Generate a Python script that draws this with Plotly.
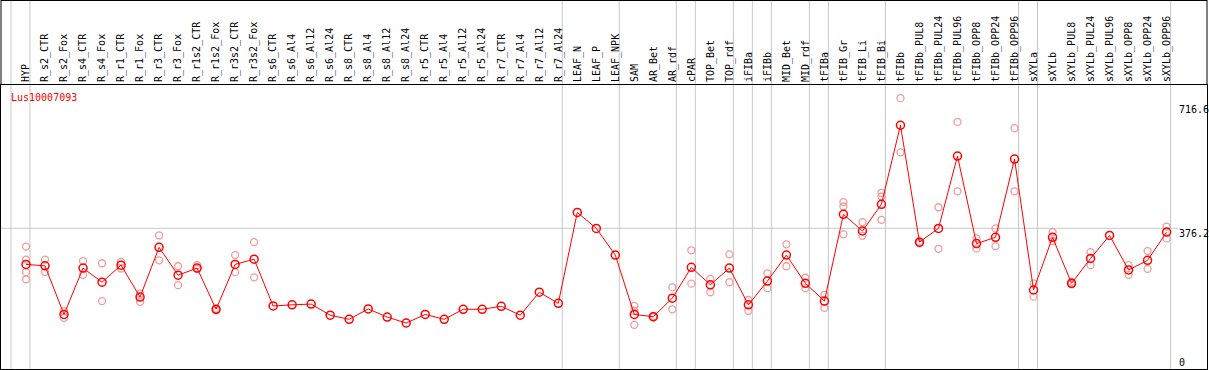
import plotly.graph_objects as go

# ---------------- data ----------------
categories = [
    "HYP", "R_s2_CTR", "R_s2_Fox", "R_s4_CTR", "R_s4_Fox", "R_r1_CTR", "R_r1_Fox",
    "R_r3_CTR", "R_r3_Fox", "R_r1s2_CTR", "R_r1s2_Fox", "R_r3s2_CTR", "R_r3s2_Fox",
    "R_s6_CTR", "R_s6_Al4", "R_s6_Al12", "R_s6_Al24", "R_s8_CTR", "R_s8_Al4",
    "R_s8_Al12", "R_s8_Al24", "R_r5_CTR", "R_r5_Al4", "R_r5_Al12", "R_r5_Al24",
    "R_r7_CTR", "R_r7_Al4", "R_r7_Al12", "R_r7_Al24", "LEAF_N", "LEAF_P", "LEAF_NPK",
    "SAM", "AR_Bet", "AR_rdf", "cPAR", "TOP_Bet", "TOP_rdf", "iFIBa", "iFIBb",
    "MID_Bet", "MID_rdf", "tFIBa", "tFIB_Gr", "tFIB_Li", "tFIB_Bi", "tFIBb",
    "tFIBb_PUL8", "tFIBb_PUL24", "tFIBb_PUL96", "tFIBb_OPP8", "tFIBb_OPP24", "tFIBb_OPP96",
    "sXYLa", "sXYLb", "sXYLb_PUL8", "sXYLb_PUL24", "sXYLb_PUL96", "sXYLb_OPP8",
    "sXYLb_OPP24", "sXYLb_OPP96",
]

mean_values = [
    279, 275, 144, 269, 231, 277, 191, 325, 250, 269, 158, 279, 293,
    167, 170, 172, 142, 131, 159, 137, 121, 144, 131, 158, 158,
    166, 142, 204, 174, 419, 376, 304,
    144, 138, 188, 271, 224, 269, 170, 234, 304, 228, 180,
    414, 369, 441, 654, 339, 376, 571, 335, 352, 563,
    210, 352, 228, 295, 357, 264, 290, 366,
]

rep_a = [
    327, 292, 153, 288, 282, 286, 200, 357, 274, 277, 160, 304, 339,
    None, None, None, None, None, None, None, None, None, None, None, None,
    None, None, None, None, None, None, None,
    167, 140, 217, 317, 240, 306, 183, 255, 333, 243, 197,
    447, 393, 472, 727, 341, 433, 663, 349, 376, 646,
    228, 366, 232, 312, None, 277, 315, 381,
]
rep_b = [
    292, 259, 135, 251, 180, 268, 178, 290, 223, 267, 155, 258, 244,
    None, None, None, None, None, None, None, None, None, None, None, None,
    None, None, None, None, None, None, None,
    154, 136, 158, 227, 204, 231, 154, 215, 274, 215, 162,
    435, 356, 462, 581, 336, 321, 476, 322, 328, 476,
    192, 342, 225, 277, None, 251, 267, 349,
]
rep_c = [
    258, None, None, None, None, None, None, None, None, None, None, None, None,
    None, None, None, None, None, None, None, None, None, None, None, None,
    None, None, None, None, None, None, None,
    116, None, None, None, None, None, None, None, None, None, None,
    360, None, 399, None, None, None, None, None, None, None,
    None, None, None, None, None, None, None, None,
]
rep_d = [239] + [None] * 60

separators_after = [-1, 0, 28, 31, 34, 35, 37, 38, 39, 41, 42, 45, 52, 53, 60]
right_ticks = [716.6, 376.2, 0]
gene_name = "Lus10007093"

# ---------------- layout geometry ----------------
W, H = 1209, 370
ML, MR, MT, MB = 1, 2, 85, 1
PLOT_H = H - MT - MB
X_RANGE = [-1.315, 62.125]
Y_RANGE = [-2.96, 762.5]
MONO = "DejaVu Sans Mono"
PINK = "#f09a9a"
RED = "#ff0000"
GRAY = "#c8c8c8"


def paper_x(px):
    return (px - ML) / (W - ML - MR)


def paper_y(py):
    return (H - MB - py) / PLOT_H


idx = list(range(len(categories)))

fig = go.Figure()

# replicate points
rx, ry = [], []
for arr in (rep_a, rep_b, rep_c, rep_d):
    for i, v in zip(idx, arr):
        if v is not None:
            rx.append(i)
            ry.append(v)
fig.add_trace(go.Scatter(
    x=rx, y=ry, mode="markers", hoverinfo="skip",
    marker=dict(symbol="circle-open", size=7, color=PINK, line=dict(width=1.3, color=PINK)),
    showlegend=False,
))

# mean line
fig.add_trace(go.Scatter(
    x=idx, y=mean_values, mode="lines+markers",
    line=dict(color=RED, width=1),
    marker=dict(symbol="circle-open", size=8, color=RED, line=dict(width=1.5, color=RED)),
    showlegend=False,
))

shapes = []
# group separators (span labels area too)
for s in separators_after:
    shapes.append(dict(type="line", xref="x", yref="paper", x0=s + 0.21, x1=s + 0.21,
                       y0=0, y1=paper_y(0), line=dict(color=GRAY, width=1), layer="below"))
# horizontal grid line at middle tick
shapes.append(dict(type="line", xref="paper", yref="y", x0=0, x1=paper_x(1178),
                   y0=right_ticks[1], y1=right_ticks[1], line=dict(color=GRAY, width=1), layer="below"))
# outer frame of label area
shapes.append(dict(type="line", xref="paper", yref="paper", x0=0, x1=1,
                   y0=paper_y(0.5), y1=paper_y(0.5), line=dict(color="black", width=1)))
shapes.append(dict(type="line", xref="paper", yref="paper", x0=0, x1=0,
                   y0=1, y1=paper_y(0), line=dict(color="black", width=1)))
shapes.append(dict(type="line", xref="paper", yref="paper", x0=1, x1=1,
                   y0=1, y1=paper_y(0), line=dict(color="black", width=1)))

annotations = [
    dict(text=gene_name, xref="paper", yref="paper", x=paper_x(9), y=paper_y(97.3),
         xanchor="left", yanchor="middle", showarrow=False,
         font=dict(family=MONO, size=10, color=RED)),
]
for v in right_ticks:
    annotations.append(dict(
        text=f"{v:g}", xref="paper", yref="y", x=paper_x(1177), y=v,
        xanchor="left", yanchor="bottom" if v == 0 else "top", showarrow=False,
        yshift=-2 if v == 0 else (2 if v == right_ticks[1] else 0),
        font=dict(family=MONO, size=10, color="black"),
    ))

fig.update_layout(
    width=W, height=H, autosize=False,
    margin=dict(l=ML, r=MR, t=MT, b=MB, pad=0),
    paper_bgcolor="white", plot_bgcolor="white",
    showlegend=False,
    shapes=shapes, annotations=annotations,
    xaxis=dict(
        range=X_RANGE, side="top", tickmode="array", tickvals=idx, ticktext=categories,
        tickangle=-90, tickfont=dict(family=MONO, size=10, color="black"),
        ticks="", showgrid=False, zeroline=False,
        showline=True, mirror=True, linecolor="black", linewidth=1,
        fixedrange=True,
    ),
    yaxis=dict(
        range=Y_RANGE, showticklabels=False, ticks="", showgrid=False, zeroline=False,
        showline=True, mirror=True, linecolor="black", linewidth=1, fixedrange=True,
    ),
)

fig.write_html(
    "out.html",
    config={"displayModeBar": False},
    post_script="document.body.style.margin='0';document.body.style.overflow='hidden';",
)
